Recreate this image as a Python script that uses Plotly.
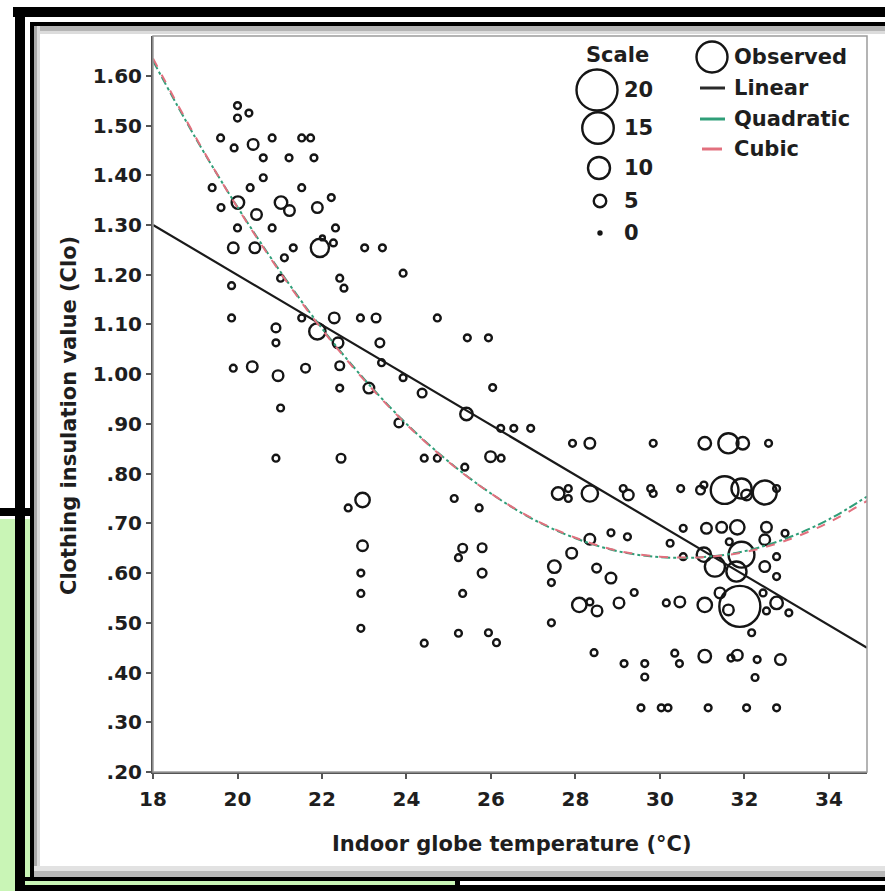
import plotly.graph_objects as go

# ---------------- data ----------------
obs_x = [20.00, 20.00, 20.27, 19.60, 19.92, 20.37, 20.82, 21.52, 21.73, 20.61, 21.22, 21.81,
         20.61, 19.40, 20.30, 21.52, 22.22, 20.01, 19.61, 21.03, 21.23, 21.89, 20.45, 20.00,
         20.82, 22.32, 19.90, 20.41, 21.32, 21.95, 22.01, 22.27, 23.01, 23.43, 21.11, 22.42,
         22.52, 23.92, 19.86, 21.02, 19.86,
         20.91, 20.91, 21.52, 22.29, 22.91, 23.28, 24.73, 21.89, 22.38, 23.37, 23.41, 19.90,
         20.35, 20.96, 21.61, 22.42, 22.42, 23.11, 23.92, 24.37, 21.02, 23.82, 20.91, 22.45,
         24.42, 24.73, 22.96, 22.62, 22.96,
         22.92, 22.92, 22.92, 24.42, 25.13, 25.33, 25.23, 25.33, 25.23, 25.38,
         25.44, 25.94, 26.04, 25.42, 26.23, 26.54, 26.94, 25.99, 26.24, 27.93, 28.34, 25.72,
         27.59, 27.83, 27.83, 28.34, 29.13, 29.25, 25.79, 25.79, 25.94, 26.13, 28.34, 28.84,
         27.91, 27.50, 28.50, 28.84, 27.43, 28.09, 28.34, 28.51, 29.03, 27.43, 29.23,
         29.39, 28.44, 29.15, 29.64, 29.64, 29.55, 30.03,
         29.84, 31.06, 31.62, 31.96, 32.57,
         29.78, 29.84, 30.49, 30.96, 31.04, 31.53, 31.93, 32.05, 32.48, 32.76,
         30.55, 30.24, 31.10, 31.46, 31.83, 32.52, 32.96, 31.64, 32.48,
         30.55, 31.04, 31.30, 31.93, 31.81, 32.48, 32.76, 32.76,
         30.15, 30.47, 31.06, 31.42, 31.62, 31.89, 32.44, 32.76, 32.52, 33.05, 32.17,
         30.35, 30.46, 31.06, 31.68, 31.83, 32.30, 32.85, 32.25,
         30.19, 31.14, 32.05, 32.76]
obs_y = [1.540, 1.515, 1.525, 1.475, 1.455, 1.462, 1.475, 1.475, 1.475, 1.435, 1.435, 1.435,
         1.395, 1.375, 1.375, 1.375, 1.355, 1.345, 1.335, 1.345, 1.329, 1.335, 1.321, 1.294,
         1.294, 1.294, 1.254, 1.254, 1.254, 1.254, 1.274, 1.264, 1.254, 1.254, 1.234, 1.193,
         1.173, 1.203, 1.178, 1.193, 1.113,
         1.093, 1.063, 1.113, 1.113, 1.113, 1.113, 1.113, 1.086, 1.063, 1.063, 1.023, 1.012,
         1.015, 0.997, 1.012, 1.017, 0.972, 0.972, 0.993, 0.962, 0.932, 0.902, 0.831, 0.831,
         0.831, 0.831, 0.747, 0.731, 0.655,
         0.600, 0.559, 0.489, 0.459, 0.750, 0.650, 0.631, 0.559, 0.479, 0.813,
         1.073, 1.073, 0.973, 0.920, 0.891, 0.891, 0.891, 0.834, 0.831, 0.861, 0.861, 0.731,
         0.760, 0.770, 0.750, 0.760, 0.770, 0.757, 0.651, 0.600, 0.480, 0.460, 0.668, 0.681,
         0.640, 0.613, 0.610, 0.590, 0.581, 0.536, 0.542, 0.524, 0.540, 0.500, 0.673,
         0.561, 0.440, 0.418, 0.418, 0.391, 0.329, 0.329,
         0.861, 0.861, 0.861, 0.861, 0.861,
         0.770, 0.760, 0.770, 0.767, 0.777, 0.767, 0.770, 0.757, 0.762, 0.770,
         0.690, 0.660, 0.690, 0.692, 0.692, 0.692, 0.680, 0.663, 0.667,
         0.633, 0.637, 0.613, 0.637, 0.603, 0.613, 0.633, 0.593,
         0.540, 0.542, 0.536, 0.560, 0.526, 0.533, 0.560, 0.540, 0.524, 0.520, 0.480,
         0.439, 0.418, 0.433, 0.429, 0.435, 0.426, 0.426, 0.390,
         0.329, 0.329, 0.329, 0.329]
obs_freq = [2, 2, 2, 2, 2, 4, 2, 2, 2, 2, 2, 2,
            2, 2, 2, 2, 2, 5, 2, 5, 4, 4, 4, 2,
            2, 2, 4, 4, 2, 8, 1, 2, 2, 2, 2, 2,
            2, 2, 2, 2, 2,
            3, 2, 2, 4, 2, 3, 2, 7, 4, 3, 2, 2,
            4, 4, 3, 3, 2, 4, 2, 3, 2, 3, 2, 3,
            2, 2, 6, 2, 4,
            2, 2, 2, 2, 2, 3, 2, 2, 2, 2,
            2, 2, 2, 5, 2, 2, 2, 4, 2, 2, 4, 2,
            5, 2, 2, 7, 2, 4, 3, 3, 2, 2, 4, 2,
            4, 5, 3, 4, 2, 6, 2, 4, 4, 2, 2,
            2, 2, 2, 2, 2, 2, 2,
            2, 5, 9, 5, 2,
            2, 2, 2, 3, 2, 13, 9, 4, 11, 2,
            2, 2, 4, 4, 6, 4, 2, 2, 4,
            2, 6, 9, 12, 9, 4, 2, 2,
            2, 4, 6, 4, 4, 20, 2, 5, 2, 2, 2,
            2, 2, 5, 2, 4, 2, 4, 2,
            2, 2, 2, 2]

curve_x = [18, 19, 20, 21, 22, 23, 24, 25, 26, 27, 28, 29, 30, 31, 32, 33, 34, 34.9]
quad_y = [1.630, 1.476, 1.336, 1.208, 1.092, 0.990, 0.900, 0.824, 0.760, 0.708, 0.670,
          0.644, 0.632, 0.632, 0.644, 0.670, 0.708, 0.754]
cubic_y = [1.635, 1.478, 1.335, 1.206, 1.090, 0.988, 0.899, 0.823, 0.760, 0.709, 0.671,
           0.645, 0.633, 0.632, 0.642, 0.666, 0.702, 0.745]
linear_x = [18, 34.9]
linear_y = [1.300, 0.450]

x_ticks = [18, 20, 22, 24, 26, 28, 30, 32, 34]
y_ticks = [0.2, 0.3, 0.4, 0.5, 0.6, 0.7, 0.8, 0.9, 1.0, 1.1, 1.2, 1.3, 1.4, 1.5, 1.6]
y_ticktext = [".20", ".30", ".40", ".50", ".60", ".70", ".80", ".90",
              "1.00", "1.10", "1.20", "1.30", "1.40", "1.50", "1.60"]
scale_levels = [20, 15, 10, 5, 0]

# ---------------- styling / geometry ----------------
W, H = 885, 891
L, R, T, B = 153, 867, 36, 772
FONT = "DejaVu Sans"
TXT = "#1e1e1e"
MK = "#151515"
QUAD_C = "#2f9e78"
CUBIC_C = "#e2707e"


def msize(f):
    return 3 + 1.9 * f


def px(x):
    return (x - L) / (R - L)


def py(y):
    return (B - y) / (B - T)


fig = go.Figure()

fig.add_trace(go.Scatter(
    x=obs_x, y=obs_y, mode="markers", name="Observed",
    marker=dict(symbol="circle-open", size=[msize(f) for f in obs_freq], opacity=1,
                color=MK, line=dict(width=2.4, color=MK)),
    showlegend=False))
fig.add_trace(go.Scatter(x=linear_x, y=linear_y, mode="lines", name="Linear",
                         line=dict(color="#1a1a1a", width=2.2), showlegend=False))
fig.add_trace(go.Scatter(x=curve_x, y=quad_y, mode="lines", name="Quadratic",
                         line=dict(color=QUAD_C, width=2, dash="dashdot", shape="spline"),
                         showlegend=False))
fig.add_trace(go.Scatter(x=curve_x, y=cubic_y, mode="lines", name="Cubic",
                         line=dict(color=CUBIC_C, width=2, dash="dash", shape="spline"),
                         showlegend=False))

shapes = []


def rect(x0, y0, x1, y1, fill):
    shapes.append(dict(type="rect", xref="paper", yref="paper", layer="below",
                       x0=px(x0), x1=px(x1), y0=py(y1), y1=py(y0),
                       fillcolor=fill, line=dict(width=0)))


GREEN = "#c9f5b6"
# decorative screenshot frame
rect(34, 26, 885, 877, "#ffffff")
rect(34, 26, 885, 31, "#b4b4b4")
rect(34, 31, 885, 34, "#dcdcdc")
rect(34, 26, 37, 877, "#a8a8a8")
rect(37, 26, 40, 877, "#dadada")
rect(34, 866, 885, 871, "#e2e2e2")
rect(34, 871, 885, 877, "#b8b8b8")
rect(13, 7, 885, 17, "#000000")
rect(30, 22, 885, 26, "#000000")
rect(15, 7, 25, 891, "#000000")
rect(30, 22, 34, 880, "#000000")
rect(0, 508, 34, 516, "#000000")
rect(0, 519, 15, 891, GREEN)
rect(25, 519, 30, 880, GREEN)
rect(15, 877, 885, 881, "#000000")
rect(25, 881, 455, 885, GREEN)
rect(15, 885, 885, 891, "#000000")
rect(455, 881, 460, 885, "#000000")

# plot frame (top / right)
shapes.append(dict(type="rect", xref="paper", yref="paper", x0=0, x1=1, y0=0, y1=1,
                   line=dict(color="#9c9c9c", width=1.5), layer="above"))


def circle(cx, cy, d, fill=None):
    shapes.append(dict(type="circle", xref="paper", yref="paper",
                       xsizemode="pixel", ysizemode="pixel",
                       xanchor=px(cx), yanchor=py(cy),
                       x0=-d / 2, x1=d / 2, y0=-d / 2, y1=d / 2,
                       line=dict(color=MK, width=2.4),
                       fillcolor=fill if fill else "rgba(0,0,0,0)"))


def seg(x0, x1, y, color, width=3, dash="solid"):
    shapes.append(dict(type="line", xref="paper", yref="paper",
                       x0=px(x0), x1=px(x1), y0=py(y), y1=py(y),
                       line=dict(color=color, width=width, dash=dash)))


annotations = []


def text(x, y, s, size=21, xanchor="left", angle=0):
    annotations.append(dict(xref="paper", yref="paper", x=px(x), y=py(y), text=s,
                            showarrow=False, xanchor=xanchor, yanchor="middle",
                            textangle=angle,
                            font=dict(family=FONT, size=size, color=TXT, weight="bold")))


# size scale key
text(617, 55, "Scale", xanchor="center")
scale_pos = [(597, 90), (598, 128), (599, 168), (600, 201), (600, 233)]
for lvl, (cx, cy) in zip(scale_levels, scale_pos):
    if lvl == 0:
        circle(cx, cy, msize(lvl), fill=MK)
    else:
        circle(cx, cy, msize(lvl))
    text(622, cy, str(lvl))

# line key
circle(712, 57, 31)
text(732, 57, "Observed")
seg(700, 725, 88, "#2a2a2a")
text(732, 88, "Linear")
seg(700, 725, 119, QUAD_C)
text(732, 119, "Quadratic")
seg(702, 722, 149, CUBIC_C)
text(732, 149, "Cubic")

# axis titles
text((L + R) / 2 + 2, 844, "Indoor globe temperature (°C)", xanchor="center")
text(69, (T + B) / 2 + 12, "Clothing insulation value (Clo)", xanchor="center", angle=-90)

tickfont = dict(family=FONT, size=20, color=TXT, weight="bold")
fig.update_layout(
    width=W, height=H, autosize=False,
    margin=dict(l=L, r=W - R, t=T, b=H - B),
    paper_bgcolor="#ffffff", plot_bgcolor="rgba(0,0,0,0)",
    showlegend=False,
    shapes=shapes, annotations=annotations,
    xaxis=dict(range=[18, 34.9], tickvals=x_ticks, ticks="outside", ticklen=5,
               tickwidth=1.5, tickcolor="#555555", showline=True, linecolor="#555555",
               linewidth=2, showgrid=False, zeroline=False, tickfont=tickfont,
               ticklabelstandoff=3),
    yaxis=dict(range=[0.2, 1.68], tickvals=y_ticks, ticktext=y_ticktext, ticks="outside",
               ticklen=5, tickwidth=1.5, tickcolor="#555555", showline=True,
               linecolor="#555555", linewidth=2, showgrid=False, zeroline=False,
               tickfont=tickfont, ticklabelstandoff=0),
)

fig.write_html("out.html", config={"displayModeBar": False},
               post_script="document.body.style.margin='0';document.body.style.overflow='hidden';")
